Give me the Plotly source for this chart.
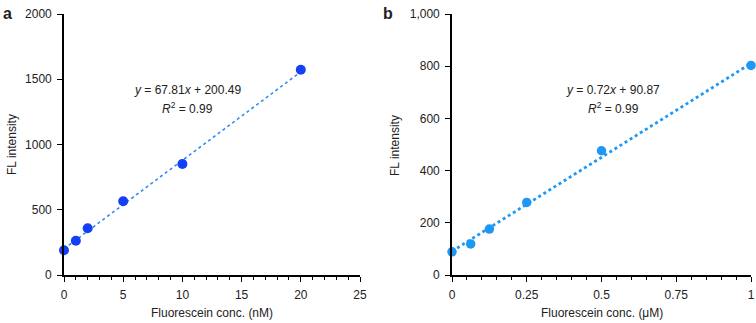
import plotly.graph_objects as go

# Panel a data
conc_nM = [0, 1, 2, 5, 10, 20]
fl_a = [190, 263, 358, 565, 851, 1573]
fit_a = [67.81, 200.49]  # slope (per nM), intercept

# Panel b data
conc_uM = [0, 0.0625, 0.125, 0.25, 0.5, 1]
fl_b = [89, 119, 176, 278, 476, 803]
fit_b = [0.72, 90.87]  # slope (per nM), intercept
NM_PER_UM = 1000

W, H = 756, 323
FONT = "Liberation Sans, Arial, Helvetica, sans-serif"

fig = go.Figure()

# fit lines
xa_line = [conc_nM[0], conc_nM[-1]]
fig.add_trace(go.Scatter(x=xa_line, y=[fit_a[0] * v + fit_a[1] for v in xa_line],
                         mode="lines", line=dict(color="#2f8cf0", width=1.6, dash="dot"),
                         xaxis="x", yaxis="y", showlegend=False, cliponaxis=False))
fig.add_trace(go.Scatter(x=conc_nM, y=fl_a, mode="markers",
                         marker=dict(color="#1440f5", size=10),
                         xaxis="x", yaxis="y", showlegend=False, cliponaxis=False))

xb_line = [conc_uM[0], conc_uM[-1]]
fig.add_trace(go.Scatter(x=xb_line, y=[fit_b[0] * v * NM_PER_UM + fit_b[1] for v in xb_line],
                         mode="lines", line=dict(color="#1e98f5", width=2.8, dash="dot"),
                         xaxis="x2", yaxis="y2", showlegend=False, cliponaxis=False))
fig.add_trace(go.Scatter(x=conc_uM, y=fl_b, mode="markers",
                         marker=dict(color="#1e98f5", size=9.5),
                         xaxis="x2", yaxis="y2", showlegend=False, cliponaxis=False))

ydom = [48 / H, 309 / H]
axis_common = dict(showgrid=False, zeroline=False, showline=True, linecolor="black",
                   linewidth=1.6, ticks="outside", ticklen=5, tickwidth=1.4,
                   tickcolor="black", ticklabelstandoff=3, automargin=False,
                   tickfont=dict(size=12, color="#222", family=FONT))

fig.update_layout(
    width=W, height=H,
    margin=dict(l=0, r=0, t=0, b=0, pad=0, autoexpand=False),
    plot_bgcolor="white", paper_bgcolor="white",
    font=dict(family=FONT, size=12, color="#222"),
    xaxis=dict(domain=[64 / W, 360 / W], range=[0, 25], dtick=5, anchor="y",
               minor=dict(dtick=1, ticks="outside", ticklen=3, tickwidth=1.2, tickcolor="black"),
               **axis_common),
    yaxis=dict(domain=ydom, range=[0, 2000], dtick=500, anchor="x", **axis_common),
    xaxis2=dict(domain=[452 / W, 751 / W], range=[0, 1], dtick=0.25, anchor="y2",
                minor=dict(dtick=0.05, ticks="outside", ticklen=3, tickwidth=1.2, tickcolor="black"),
                **axis_common),
    yaxis2=dict(domain=ydom, range=[0, 1000], dtick=200, tickformat=",", anchor="x2", **axis_common),
)

ann = []
def txt(x, y, s, size=12, angle=0, xanchor="center"):
    ann.append(dict(x=x / W, y=1 - y / H, xref="paper", yref="paper", text=s,
                    showarrow=False, textangle=angle, xanchor=xanchor, yanchor="middle",
                    font=dict(size=size, family=FONT, color="#222")))

# panel labels
txt(1, 13, "<b>a</b>", size=16, xanchor="left")
txt(381, 13, "<b>b</b>", size=16, xanchor="left")
# axis titles
txt(12, 145, "FL intensity", angle=-90)
txt(395, 145, "FL intensity", angle=-90)
txt(212, 313, "Fluorescein conc. (nM)")
txt(602, 313, "Fluorescein conc. (μM)")
# equations
txt(187, 90, f"<i>y</i> = {fit_a[0]:.2f}<i>x</i> + {fit_a[1]:.2f}")
txt(187, 108, "<i>R</i><sup>2</sup> = 0.99")
txt(613, 90, f"<i>y</i> = {fit_b[0]:.2f}<i>x</i> + {fit_b[1]:.2f}")
txt(613, 108, "<i>R</i><sup>2</sup> = 0.99")
fig.update_layout(annotations=ann)

fig.write_html("out.html")
